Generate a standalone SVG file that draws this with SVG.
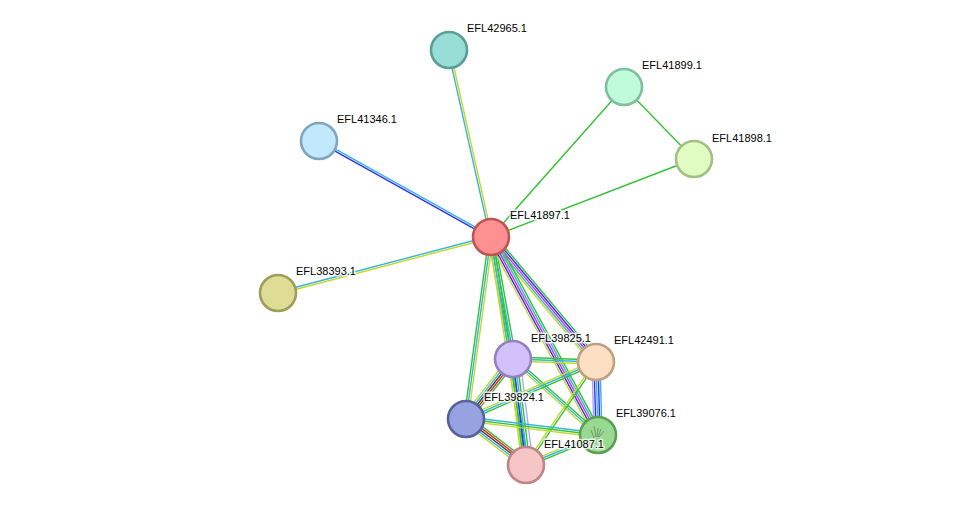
<svg xmlns="http://www.w3.org/2000/svg" width="976" height="511" viewBox="0 0 976 511">
<style>
.e line{stroke-width:1.4;fill:none}
.g{stroke:#33c233}.r{stroke:#e62222}.b{stroke:#3030f0}.m{stroke:#d22ed2}.c{stroke:#36b4dc}.y{stroke:#c3d82a}.k{stroke:#404040}.l{stroke:#a8a8ff}
.n circle{stroke-width:2.6}
text{font-family:"Liberation Sans",Arial,sans-serif;font-size:11px;fill:#000;stroke:#fff;stroke-width:3;stroke-opacity:0.8;paint-order:stroke;stroke-linejoin:round}
</style>
<rect width="976" height="511" fill="#fff"/>
<g id="edges" class="e">
<!-- A-B -->
<g transform="translate(491,237) rotate(-102.66)"><line class="c" x1="0" y1="-1" x2="191.7" y2="-1"/><line class="y" x1="0" y1="1" x2="191.7" y2="1"/></g>
<!-- A-C -->
<g transform="translate(491,237) rotate(-48.44)"><line class="g" x1="0" y1="0" x2="200.5" y2="0"/></g>
<!-- A-D -->
<g transform="translate(491,237) rotate(-21.02)"><line class="g" x1="0" y1="0" x2="217.5" y2="0"/></g>
<!-- C-D -->
<g transform="translate(624,87) rotate(45.81)"><line class="g" x1="0" y1="0" x2="100.4" y2="0"/></g>
<!-- A-E -->
<g transform="translate(491,237) rotate(-150.83)"><line class="b" x1="0" y1="-1" x2="197" y2="-1"/><line class="c" x1="0" y1="1" x2="197" y2="1"/></g>
<!-- A-F -->
<g transform="translate(491,237) rotate(165.27)"><line class="c" x1="0" y1="1" x2="220.2" y2="1"/><line class="y" x1="0" y1="-1" x2="220.2" y2="-1"/></g>
<!-- A-G -->
<g transform="translate(491,237) rotate(79.78)"><line class="g" x1="0" y1="-3" x2="124" y2="-3"/><line class="c" x1="0" y1="-1" x2="124" y2="-1"/><line class="g" x1="0" y1="1" x2="124" y2="1"/><line class="y" x1="0" y1="3" x2="124" y2="3"/></g>
<!-- A-H -->
<g transform="translate(491,237) rotate(49.97)"><line class="g" x1="0" y1="-4" x2="163.2" y2="-4"/><line class="b" x1="0" y1="-2" x2="163.2" y2="-2"/><line class="m" x1="0" y1="0" x2="163.2" y2="0"/><line class="c" x1="0" y1="2" x2="163.2" y2="2"/><line class="y" x1="0" y1="4" x2="163.2" y2="4"/></g>
<!-- A-I -->
<g transform="translate(491,237) rotate(97.82)"><line class="g" x1="0" y1="2" x2="183.7" y2="2"/><line class="c" x1="0" y1="0" x2="183.7" y2="0"/><line class="y" x1="0" y1="-2" x2="183.7" y2="-2"/></g>
<!-- A-J -->
<g transform="translate(491,237) rotate(61.61)"><line class="g" x1="0" y1="-4" x2="225.1" y2="-4"/><line class="c" x1="0" y1="-2" x2="225.1" y2="-2"/><line class="m" x1="0" y1="0" x2="225.1" y2="0"/><line class="b" x1="0" y1="2" x2="225.1" y2="2"/><line class="y" x1="0" y1="4" x2="225.1" y2="4"/></g>
<!-- A-K -->
<g transform="translate(491,237) rotate(81.27)"><line class="g" x1="0" y1="-2" x2="230.7" y2="-2"/><line class="c" x1="0" y1="0" x2="230.7" y2="0"/><line class="y" x1="0" y1="2" x2="230.7" y2="2"/></g>
<!-- G-H -->
<g transform="translate(513,359) rotate(2.07)"><line class="g" x1="0" y1="-2" x2="83.05" y2="-2"/><line class="c" x1="0" y1="0" x2="83.05" y2="0"/><line class="y" x1="0" y1="2" x2="83.05" y2="2"/></g>
<!-- G-I -->
<g transform="translate(513,359) rotate(128.07)"><line class="g" x1="0" y1="-4" x2="76.2" y2="-4"/><line class="r" x1="0" y1="-2" x2="76.2" y2="-2"/><line class="k" x1="0" y1="0" x2="76.2" y2="0"/><line class="c" x1="0" y1="2" x2="76.2" y2="2"/><line class="y" x1="0" y1="4" x2="76.2" y2="4"/></g>
<!-- G-J -->
<g transform="translate(513,359) rotate(41.80)"><line class="g" x1="0" y1="-2" x2="114" y2="-2"/><line class="c" x1="0" y1="0" x2="114" y2="0"/><line class="y" x1="0" y1="2" x2="114" y2="2"/></g>
<!-- G-K -->
<g transform="translate(513,359) rotate(83.01)"><line class="g" x1="0" y1="-4" x2="106.8" y2="-4"/><line class="c" x1="0" y1="-2" x2="106.8" y2="-2"/><line class="b" x1="0" y1="0" x2="106.8" y2="0"/><line class="g" x1="0" y1="2" x2="106.8" y2="2"/><line class="y" x1="0" y1="4" x2="106.8" y2="4"/><line class="l" x1="0" y1="-7" x2="106.8" y2="-7"/></g>
<!-- H-I -->
<g transform="translate(596,362) rotate(156.32)"><line class="g" x1="0" y1="-2" x2="141.9" y2="-2"/><line class="c" x1="0" y1="0" x2="141.9" y2="0"/><line class="y" x1="0" y1="2" x2="141.9" y2="2"/></g>
<!-- H-J -->
<g transform="translate(596,362) rotate(88.43)"><line class="l" x1="0" y1="4" x2="73.03" y2="4"/><line class="b" x1="0" y1="2" x2="73.03" y2="2"/><line class="c" x1="0" y1="0" x2="73.03" y2="0"/><line class="b" x1="0" y1="-2" x2="73.03" y2="-2"/><line class="c" x1="0" y1="-4" x2="73.03" y2="-4"/></g>
<!-- H-K -->
<g transform="translate(596,362) rotate(124.20)"><line class="g" x1="0" y1="-1" x2="124.5" y2="-1"/><line class="y" x1="0" y1="1" x2="124.5" y2="1"/></g>
<!-- I-J -->
<g transform="translate(466,419) rotate(6.91)"><line class="c" x1="0" y1="-2" x2="133" y2="-2"/><line class="g" x1="0" y1="0" x2="133" y2="0"/><line class="y" x1="0" y1="2" x2="133" y2="2"/></g>
<!-- I-K -->
<g transform="translate(466,419) rotate(37.48)"><line class="g" x1="0" y1="-4" x2="75.6" y2="-4"/><line class="r" x1="0" y1="-2" x2="75.6" y2="-2"/><line class="k" x1="0" y1="0" x2="75.6" y2="0"/><line class="c" x1="0" y1="2" x2="75.6" y2="2"/><line class="y" x1="0" y1="4" x2="75.6" y2="4"/></g>
<!-- J-K -->
<g transform="translate(598,435) rotate(157.38)"><line class="g" x1="0" y1="-2" x2="78" y2="-2"/><line class="c" x1="0" y1="0" x2="78" y2="0"/><line class="y" x1="0" y1="2" x2="78" y2="2"/></g>
</g>
<g id="EFL42965.1" class="n"><circle cx="449" cy="50" r="18" fill="#97ded6" stroke="#5a9e96"/><text x="467" y="32">EFL42965.1</text></g>
<g id="EFL41899.1" class="n"><circle cx="624" cy="87" r="18" fill="#c0fbdc" stroke="#80bf9c"/><text x="642" y="69">EFL41899.1</text></g>
<g id="EFL41898.1" class="n"><circle cx="694" cy="159" r="18" fill="#e1fcc2" stroke="#a2bf84"/><text x="712" y="142">EFL41898.1</text></g>
<g id="EFL41346.1" class="n"><circle cx="319" cy="141" r="18" fill="#c2e8fc" stroke="#7fa6bf"/><text x="337" y="123">EFL41346.1</text></g>
<g id="EFL38393.1" class="n"><circle cx="278" cy="293" r="18" fill="#dedc95" stroke="#9e9d5a"/><text x="296" y="275">EFL38393.1</text></g>
<g id="EFL41897.1" class="n"><circle cx="491" cy="237" r="18" fill="#fd9090" stroke="#c05555"/><text x="510" y="219">EFL41897.1</text></g>
<g id="EFL39825.1" class="n"><circle cx="513" cy="359" r="18" fill="#d2c2fc" stroke="#9482c0"/><text x="531" y="342">EFL39825.1</text></g>
<g id="EFL42491.1" class="n"><circle cx="596" cy="362" r="18" fill="#fde0c3" stroke="#c0a080"/><text x="614" y="344">EFL42491.1</text></g>
<g id="EFL39824.1" class="n"><circle cx="466" cy="419" r="18" fill="#97a3e0" stroke="#5662a0"/><text x="484" y="401">EFL39824.1</text></g>
<g id="EFL39076.1" class="n"><circle cx="598" cy="435" r="18" fill="#9ad991" stroke="#5aa052"/><path d="M591 430 l3 8 M594 426 l2 11 M598 428 l-1 9 M601 429 l-3 8 M604 431 l-5 6" stroke="#4a6a45" stroke-width="0.8" fill="none" opacity="0.7"/><text x="616" y="417">EFL39076.1</text></g>
<g id="EFL41087.1" class="n"><circle cx="526" cy="465" r="18" fill="#f6c5c5" stroke="#c08585"/><text x="544" y="448">EFL41087.1</text></g>
</svg>
